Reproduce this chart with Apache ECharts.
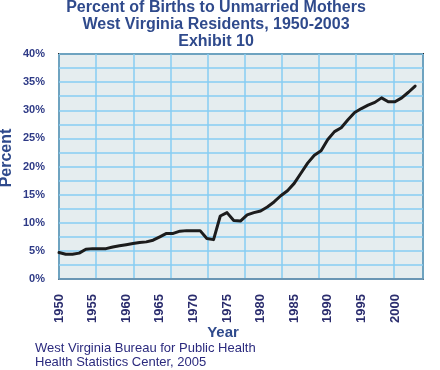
<!DOCTYPE html>
<html>
<head>
<meta charset="utf-8">
<script src="https://cdn.jsdelivr.net/npm/echarts@6/dist/echarts.min.js"></script>
<style>
  html, body { margin: 0; padding: 0; background: #fff; }
  #chart { width: 440px; height: 370px; }
</style>
</head>
<body>
<div id="chart"></div>
<script>
var years = [];
for (var y = 1950; y <= 2003; y++) years.push(y);

// percent of births to unmarried mothers
var percent = [
  4.7, 4.4, 4.4, 4.6, 5.3, 5.4, 5.4, 5.4, 5.7, 5.9,
  6.1, 6.3, 6.5, 6.6, 6.9, 7.5, 8.1, 8.1, 8.5, 8.6,
  8.6, 8.6, 7.2, 7.0, 11.2, 11.8, 10.4, 10.3, 11.4, 11.8,
  12.1, 12.8, 13.7, 14.8, 15.7, 17.0, 18.8, 20.6, 22.0, 22.8,
  24.8, 26.2, 26.9, 28.3, 29.6, 30.3, 30.9, 31.4, 32.2, 31.5,
  31.5, 32.2, 33.2, 34.3
];

var yTicks = [0, 5, 10, 15, 20, 25, 30, 35, 40];

var titleLines = [
  'Percent of Births to Unmarried Mothers',
  'West Virginia Residents, 1950-2003',
  'Exhibit 10'
];
var sourceLines = [
  'West Virginia Bureau for Public Health',
  'Health Statistics Center, 2005'
];

var titleColor = '#2f4a8c';
var labelColor = '#2e3a86';
var gridBlue = '#86ccf3';

var chart = echarts.init(document.getElementById('chart'));

var pts = [];
for (var i = 0; i < years.length; i++) pts.push([years[i], percent[i]]);

var graphics = [];
titleLines.forEach(function (t, i) {
  graphics.push({
    type: 'text',
    style: {
      text: t, x: 216, y: 8 + i * 16.7,
      textAlign: 'center', textVerticalAlign: 'middle',
      font: 'bold 16px "Liberation Sans", Arial, sans-serif',
      fill: titleColor
    }
  });
});
graphics.push({
  type: 'text',
  x: 7, y: 158, rotation: Math.PI / 2,
  style: {
    text: 'Percent', x: 0, y: 0,
    textAlign: 'center', textVerticalAlign: 'middle',
    font: 'bold 16px "Liberation Sans", Arial, sans-serif',
    fill: titleColor
  }
});
graphics.push({
  type: 'text',
  style: {
    text: 'Year', x: 223, y: 333,
    textAlign: 'center', textVerticalAlign: 'middle',
    font: 'bold 15px "Liberation Sans", Arial, sans-serif',
    fill: titleColor
  }
});
sourceLines.forEach(function (t, i) {
  graphics.push({
    type: 'text',
    style: {
      text: t, x: 35, y: 348 + i * 14,
      textAlign: 'left', textVerticalAlign: 'middle',
      font: '13px "Liberation Sans", Arial, sans-serif',
      fill: '#2b2a7e'
    }
  });
});

var option = {
  animation: false,
  backgroundColor: '#ffffff',
  grid: {
    left: 59, right: 17, top: 54, bottom: 91,
    show: true,
    backgroundColor: '#e5edef',
    borderColor: '#2a2a2a',
    borderWidth: 2
  },
  xAxis: [
    {
      type: 'value',
      min: 1950,
      max: 2004.17,
      interval: 5,
      axisLine: { show: true, lineStyle: { color: '#6a96b4', width: 2 } },
      axisTick: { show: false },
      splitLine: { show: false },
      axisLabel: {
        rotate: 90,
        margin: 15,
        showMaxLabel: false,
        fontSize: 13,
        fontWeight: 'bold',
        fontFamily: '"Liberation Sans", Arial, sans-serif',
        color: '#2b2d6e',
        formatter: function (v) { return String(v); }
      }
    },
    {
      // vertical grid lines, spaced independently from the year labels
      type: 'value',
      position: 'top',
      min: 0,
      max: 9.8,
      interval: 1,
      axisLine: { show: false },
      axisTick: { show: false },
      axisLabel: { show: false },
      splitLine: { show: true, lineStyle: { color: gridBlue, width: 1.5 } }
    }
  ],
  yAxis: {
    type: 'value',
    min: 0,
    max: 40,
    interval: 2.5,
    axisLine: { show: false },
    axisTick: { show: false },
    splitLine: { show: true, lineStyle: { color: gridBlue, width: 1.5 } },
    axisLabel: {
      margin: 14,
      fontSize: 11,
      fontWeight: 'bold',
      fontFamily: '"Liberation Sans", Arial, sans-serif',
      color: labelColor,
      formatter: function (v) {
        return yTicks.indexOf(v) >= 0 ? v + '%' : '';
      }
    }
  },
  series: [{
    type: 'line',
    xAxisIndex: 0,
    data: pts,
    showSymbol: false,
    lineStyle: { color: '#1c1c1c', width: 3, join: 'round', cap: 'round' }
  }],
  graphic: graphics
};

chart.setOption(option);
</script>
</body>
</html>
